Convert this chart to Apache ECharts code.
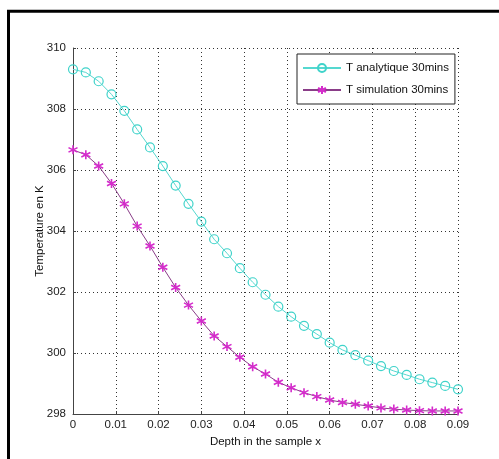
<!DOCTYPE html>
<html>
<head>
<meta charset="utf-8">
<script src="https://cdn.jsdelivr.net/npm/echarts@6/dist/echarts.min.js"></script>
<style>
  html, body { margin: 0; padding: 0; background: #ffffff; }
  #chart { width: 499px; height: 459px; }
</style>
</head>
<body>
<div id="chart"></div>
<script>
// Depth positions (m), one sample every 0.003
const depth = [0, 0.003, 0.006, 0.009, 0.012, 0.015, 0.018, 0.021, 0.024, 0.027,
  0.030, 0.033, 0.036, 0.039, 0.042, 0.045, 0.048, 0.051, 0.054, 0.057,
  0.060, 0.063, 0.066, 0.069, 0.072, 0.075, 0.078, 0.081, 0.084, 0.087, 0.090];

// Temperature profiles after 30 minutes (K)
const tAnalytic = [309.30, 309.20, 308.91, 308.48, 307.94, 307.33, 306.74, 306.13, 305.49, 304.89,
  304.31, 303.73, 303.27, 302.78, 302.32, 301.91, 301.52, 301.19, 300.89, 300.62,
  300.34, 300.10, 299.93, 299.75, 299.57, 299.41, 299.28, 299.14, 299.03, 298.92, 298.81];
const tSimulation = [306.66, 306.50, 306.13, 305.56, 304.89, 304.16, 303.51, 302.81, 302.15, 301.57,
  301.05, 300.56, 300.21, 299.86, 299.55, 299.31, 299.04, 298.86, 298.70, 298.57,
  298.46, 298.38, 298.32, 298.26, 298.20, 298.16, 298.13, 298.11, 298.10, 298.10, 298.10];

const seriesNames = ['T analytique 30mins', 'T simulation 30mins'];
const xTicks = { min: 0, max: 0.09, step: 0.01 };
const yTicks = { min: 298, max: 310, step: 2 };

const pairs = (xs, ys) => xs.map((x, i) => [x, ys[i]]);

const FONT = '"Liberation Sans", Arial, sans-serif';
const asterisk = 'path://M0,-5L0,5M-4.33,-2.5L4.33,2.5M-4.33,2.5L4.33,-2.5';

const chart = echarts.init(document.getElementById('chart'), null, { renderer: 'canvas' });

chart.setOption({
  backgroundColor: '#ffffff',
  animation: false,
  textStyle: { fontFamily: FONT },
  graphic: [
    { type: 'line', shape: { x1: 8.5, y1: 10, x2: 8.5, y2: 459 }, style: { stroke: '#000', lineWidth: 3 } },
    { type: 'line', shape: { x1: 7, y1: 11.2, x2: 499, y2: 11.2 }, style: { stroke: '#000', lineWidth: 3 } }
  ],
  grid: { left: 73, right: 41, top: 48, bottom: 45, containLabel: false },
  legend: {
    left: 297, top: 54,
    orient: 'vertical',
    padding: [8, 6, 8, 5],
    itemWidth: 38, itemHeight: 10, itemGap: 10, itemTextGap: 5,
    borderColor: '#222', borderWidth: 1,
    backgroundColor: '#ffffff',
    textStyle: { fontSize: 11.5, color: '#111', fontFamily: FONT },
    data: seriesNames
  },
  xAxis: {
    type: 'value',
    min: xTicks.min, max: xTicks.max, interval: xTicks.step,
    name: 'Depth in the sample x',
    nameLocation: 'middle', nameGap: 22,
    nameMoveOverlap: false,
    nameTextStyle: { fontSize: 11.5, color: '#111' },
    axisLine: { onZero: false, lineStyle: { color: '#444', width: 1 } },
    axisTick: { inside: true, length: 3, lineStyle: { color: '#444' } },
    axisLabel: {
      fontSize: 11.5, color: '#222', margin: 5,
      formatter: v => (Math.abs(v) < 1e-9 ? '0' : v.toFixed(2))
    },
    splitLine: { show: true, lineStyle: { color: '#333', width: 1, type: [1, 3] } }
  },
  yAxis: {
    type: 'value',
    min: yTicks.min, max: yTicks.max, interval: yTicks.step,
    name: 'Temperature en K',
    nameLocation: 'middle', nameGap: 27,
    nameMoveOverlap: false,
    nameTextStyle: { fontSize: 11.5, color: '#111' },
    axisLine: { show: true, onZero: false, lineStyle: { color: '#444', width: 1 } },
    axisTick: { show: true, inside: true, length: 3, lineStyle: { color: '#444' } },
    axisLabel: { fontSize: 11.5, color: '#222', margin: 7 },
    splitLine: { show: true, lineStyle: { color: '#333', width: 1, type: [1, 3] } }
  },
  series: [
    {
      name: seriesNames[0],
      type: 'line',
      data: pairs(depth, tAnalytic),
      symbol: 'circle',
      symbolSize: 9,
      lineStyle: { color: '#55d8d0', width: 1 },
      itemStyle: { color: 'rgba(255,255,255,0)', borderColor: '#3fd3ca', borderWidth: 1.2 },
      z: 3
    },
    {
      name: seriesNames[1],
      type: 'line',
      data: pairs(depth, tSimulation),
      symbol: asterisk,
      symbolSize: 9,
      lineStyle: { color: '#8a3d88', width: 1 },
      itemStyle: { color: '#d42ccb', borderColor: '#d42ccb', borderWidth: 1.6 },
      z: 4
    }
  ]
});
</script>
</body>
</html>
